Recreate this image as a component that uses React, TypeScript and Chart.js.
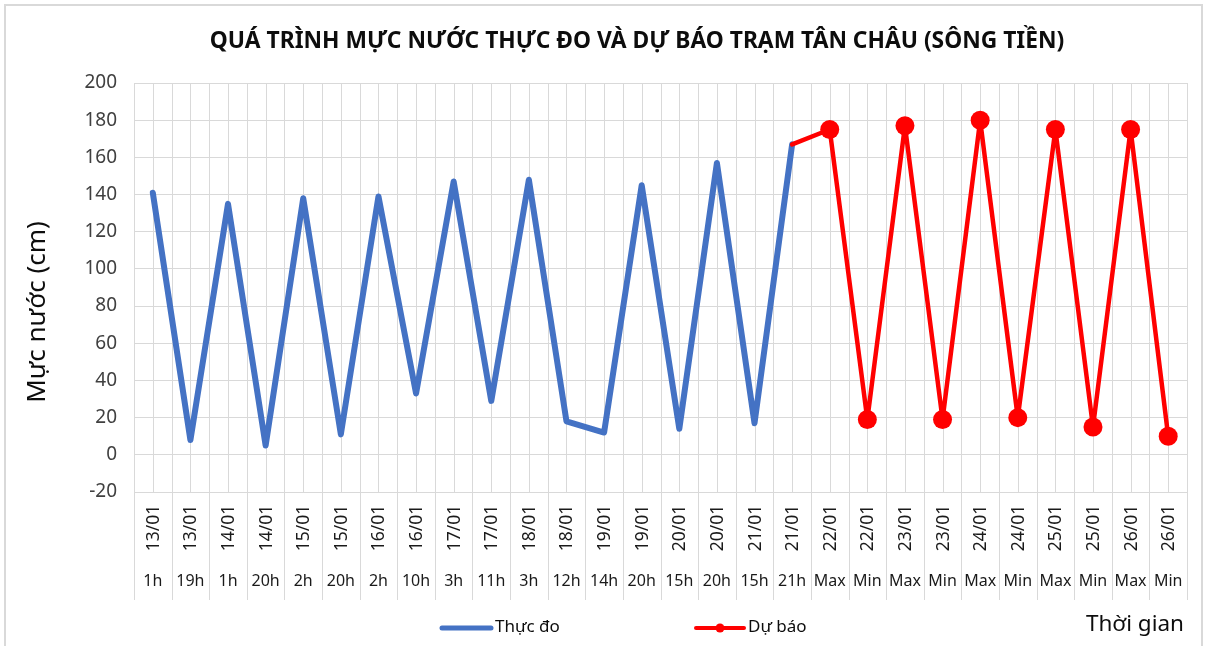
import { useEffect, useRef } from "react";
import { Chart, registerables } from "chart.js";

Chart.register(...registerables);

const TITLE = "QUÁ TRÌNH MỰC NƯỚC THỰC ĐO VÀ DỰ BÁO TRẠM TÂN CHÂU (SÔNG TIỀN)";
const Y_TITLE = "Mực nước (cm)";
const X_TITLE = "Thời gian";

const dateLabels = [
  "13/01", "13/01", "14/01", "14/01", "15/01", "15/01", "16/01", "16/01",
  "17/01", "17/01", "18/01", "18/01", "19/01", "19/01", "20/01", "20/01",
  "21/01", "21/01", "22/01", "22/01", "23/01", "23/01", "24/01", "24/01",
  "25/01", "25/01", "26/01", "26/01",
];
const hourLabels = [
  "1h", "19h", "1h", "20h", "2h", "20h", "2h", "10h",
  "3h", "11h", "3h", "12h", "14h", "20h", "15h", "20h",
  "15h", "21h", "Max", "Min", "Max", "Min", "Max", "Min",
  "Max", "Min", "Max", "Min",
];

const observed: (number | null)[] = [
  141, 8, 135, 5, 138, 11, 139, 33, 147, 29, 148, 18, 12, 145, 14, 157, 17, 167,
  null, null, null, null, null, null, null, null, null, null,
];
const forecast: (number | null)[] = [
  null, null, null, null, null, null, null, null, null, null, null, null, null, null, null, null, null,
  167, 175, 19, 177, 19, 180, 20, 175, 15, 175, 10,
];

const yTicks = { min: -20, max: 200, step: 20 };

const FONT = "'Noto Sans', 'Open Sans', sans-serif";
const GRID = "#d9d9d9";
const TEXT = "#404040";
const DARK = "#1a1a1a";
const BLUE = "#4472C4";
const RED = "#FF0000";

const decorPlugin = {
  id: "decor",
  beforeDatasetsDraw(chart: any) {
    const { ctx, chartArea } = chart;
    const { left, right, top, bottom } = chartArea;
    const n = dateLabels.length;
    const step = (right - left) / (n * 2);
    ctx.save();
    ctx.strokeStyle = GRID;
    ctx.lineWidth = 1;
    for (let k = 0; k <= n * 2; k++) {
      const x = Math.round(left + k * step) + 0.5;
      ctx.beginPath();
      ctx.moveTo(x, top);
      ctx.lineTo(x, k % 2 === 0 ? bottom + 108 : bottom);
      ctx.stroke();
    }
    ctx.restore();
  },
  afterDraw(chart: any) {
    const { ctx, chartArea } = chart;
    const { right, bottom } = chartArea;
    const xScale = chart.scales.x;
    ctx.save();

    // outer border
    ctx.strokeStyle = GRID;
    ctx.lineWidth = 2;
    ctx.beginPath();
    ctx.moveTo(5, 646);
    ctx.lineTo(5, 5);
    ctx.lineTo(1202, 5);
    ctx.lineTo(1202, 646);
    ctx.stroke();

    // title
    ctx.fillStyle = "#0d0d0d";
    ctx.font = `bold 22.8px ${FONT}`;
    ctx.textAlign = "center";
    ctx.textBaseline = "middle";
    ctx.fillText(TITLE, 637, 42);

    // y title
    ctx.save();
    ctx.translate(38, 312);
    ctx.rotate(-Math.PI / 2);
    ctx.font = `26px ${FONT}`;
    ctx.fillStyle = "#0d0d0d";
    ctx.fillText(Y_TITLE, 0, 0);
    ctx.restore();

    // x labels
    ctx.fillStyle = DARK;
    for (let i = 0; i < dateLabels.length; i++) {
      const x = xScale.getPixelForValue(i);
      ctx.save();
      ctx.translate(x + 1, bottom + 36);
      ctx.rotate(-Math.PI / 2);
      ctx.font = `17.5px ${FONT}`;
      ctx.textAlign = "center";
      ctx.textBaseline = "middle";
      ctx.fillText(dateLabels[i], 0, 0);
      ctx.restore();
      ctx.font = `16px ${FONT}`;
      ctx.textAlign = "center";
      ctx.textBaseline = "alphabetic";
      ctx.fillText(hourLabels[i], x, bottom + 94);
    }

    // legend
    ctx.lineCap = "round";
    ctx.strokeStyle = BLUE;
    ctx.lineWidth = 5;
    ctx.beginPath();
    ctx.moveTo(442, 628);
    ctx.lineTo(491, 628);
    ctx.stroke();
    ctx.strokeStyle = RED;
    ctx.lineWidth = 4;
    ctx.beginPath();
    ctx.moveTo(696, 628);
    ctx.lineTo(744, 628);
    ctx.stroke();
    ctx.fillStyle = RED;
    ctx.beginPath();
    ctx.arc(720, 628, 4.5, 0, Math.PI * 2);
    ctx.fill();

    ctx.fillStyle = "#0d0d0d";
    ctx.font = `17px ${FONT}`;
    ctx.textAlign = "left";
    ctx.textBaseline = "middle";
    ctx.fillText("Thực đo", 495, 627);
    ctx.fillText("Dự báo", 748, 627);

    ctx.font = `22.5px ${FONT}`;
    ctx.textAlign = "right";
    ctx.fillText(X_TITLE, right - 3, 625);
    ctx.restore();
  },
};

export default function App() {
  const ref = useRef<HTMLCanvasElement | null>(null);
  useEffect(() => {
    if (!ref.current) return;
    const firstForecast = forecast.findIndex((v) => v !== null);
    const chart = new Chart(ref.current, {
      type: "line",
      data: {
        labels: dateLabels.map((d, i) => `${d} ${hourLabels[i]}`),
        datasets: [
          {
            label: "Dự báo",
            data: forecast,
            borderColor: RED,
            backgroundColor: RED,
            borderWidth: 4.5,
            pointRadius: (c: any) => (c.dataIndex === firstForecast ? 0 : 9.5),
            pointHoverRadius: 9.5,
            pointBackgroundColor: RED,
            pointBorderWidth: 0,
            borderJoinStyle: "round",
            borderCapStyle: "round",
            tension: 0,
            spanGaps: false,
          },
          {
            label: "Thực đo",
            data: observed,
            borderColor: BLUE,
            backgroundColor: BLUE,
            borderWidth: 6,
            pointRadius: 0,
            borderJoinStyle: "round",
            borderCapStyle: "round",
            tension: 0,
            spanGaps: false,
          },
        ],
      },
      options: {
        responsive: false,
        animation: false,
        layout: { padding: { left: 0, top: 83, right: 19, bottom: 154 } },
        plugins: { legend: { display: false }, title: { display: false }, tooltip: { enabled: false } },
        scales: {
          x: {
            type: "category",
            offset: true,
            ticks: { display: false },
            grid: { display: false },
            border: { display: false },
            afterFit: (s: any) => { s.height = 0; },
          },
          y: {
            min: yTicks.min,
            max: yTicks.max,
            ticks: {
              stepSize: yTicks.step,
              font: { family: FONT, size: 19 },
              color: TEXT,
              padding: 17,
            },
            grid: { color: GRID, drawTicks: false },
            border: { color: GRID },
            afterFit: (s: any) => { s.width = 134; },
          },
        },
      },
      plugins: [decorPlugin],
    });
    return () => chart.destroy();
  }, []);
  return (
    <div style={{ position: "fixed", left: 0, top: 0, width: 1206, height: 646, background: "#fff" }}>
      <canvas ref={ref} width={1206} height={646} />
    </div>
  );
}
